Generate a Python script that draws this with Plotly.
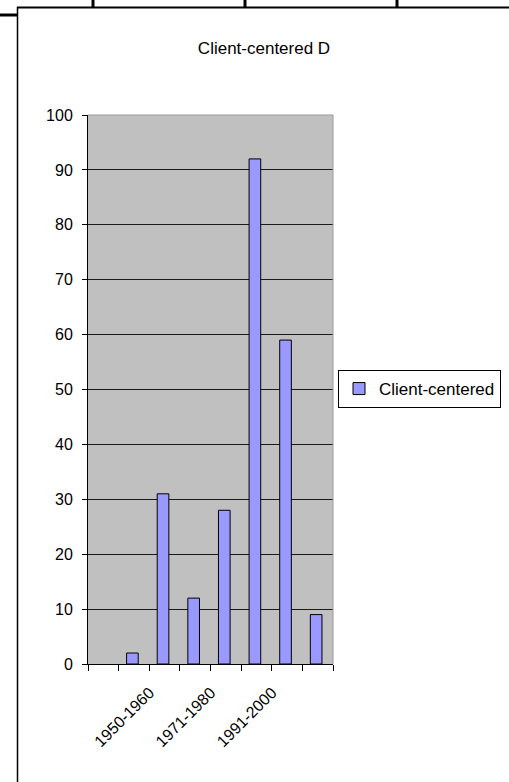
import plotly.graph_objects as go

# ---- data ----
categories = ["c1", "c2", "c3", "c4", "c5", "c6", "c7", "c8"]
shown_labels = ["", "", "1950-1960", "", "1971-1980", "", "1991-2000", ""]
values = [None, 2, 31, 12, 28, 92, 59, 9]
series_name = "Client-centered"
title_text = "Client-centered D"
y_ticks = [0, 10, 20, 30, 40, 50, 60, 70, 80, 90, 100]

W, H = 509, 782
L, R, T, B = 88, 333, 115, 664  # plot area in pixels


def px(x):
    return (x - L) / (R - L)


def py(y):
    return (B - y) / (B - T)


FONT = "Liberation Sans, Arial, sans-serif"

fig = go.Figure()
fig.add_trace(go.Bar(
    x=categories, y=values, name=series_name,
    width=0.38, offset=-0.24,
    marker=dict(color="#9999FF", line=dict(color="black", width=1)),
    showlegend=True,
))

shapes = []
# plot area top/right border (gray)
shapes.append(dict(type="line", xref="paper", yref="paper", x0=0, x1=1, y0=1, y1=1,
                   line=dict(color="#9a9a9a", width=1), layer="above"))
shapes.append(dict(type="line", xref="paper", yref="paper", x0=1, x1=1, y0=0, y1=1,
                   line=dict(color="#9a9a9a", width=1), layer="above"))
# outer chart frame
shapes.append(dict(type="line", xref="paper", yref="paper", x0=px(17), x1=px(509),
                   y0=py(7.5), y1=py(7.5), line=dict(color="black", width=2)))
shapes.append(dict(type="line", xref="paper", yref="paper", x0=px(17.5), x1=px(17.5),
                   y0=py(7), y1=py(782), line=dict(color="black", width=1.5)))
# spreadsheet cell lines above the chart
for xv in [93, 245, 397]:
    shapes.append(dict(type="line", xref="paper", yref="paper", x0=px(xv), x1=px(xv),
                       y0=py(0), y1=py(7), line=dict(color="black", width=3)))
shapes.append(dict(type="line", xref="paper", yref="paper", x0=px(0), x1=px(17),
                   y0=py(15), y1=py(15), line=dict(color="black", width=3)))

fig.update_layout(
    width=W, height=H, autosize=False,
    margin=dict(l=L, r=W - R, t=T, b=H - B, pad=0, autoexpand=False),
    paper_bgcolor="white",
    plot_bgcolor="#C0C0C0",
    font=dict(family=FONT, size=16, color="black"),
    title=dict(text=title_text, x=264 / W, xanchor="center", xref="container",
               y=1 - 48 / H, yanchor="middle", yref="container",
               font=dict(family=FONT, size=17, color="black")),
    shapes=shapes,
    showlegend=True,
    legend=dict(x=px(338), y=py(370), xanchor="left", yanchor="top",
                bordercolor="black", borderwidth=1, bgcolor="white",
                font=dict(family=FONT, size=17, color="black")),
    xaxis=dict(
        type="category",
        tickmode="array", tickvals=categories, ticktext=shown_labels,
        tickson="boundaries", ticks="outside", ticklen=6, tickcolor="black",
        tickangle=-45, ticklabelshift=-15, ticklabelstandoff=12,
        showline=True, linecolor="black", linewidth=1,
        showgrid=False, zeroline=False, automargin=False,
        tickfont=dict(family=FONT, size=16, color="black"),
    ),
    yaxis=dict(
        range=[0, 100], tickmode="array", tickvals=y_ticks,
        ticks="outside", ticklen=5, tickcolor="black",
        showline=True, linecolor="black", linewidth=1,
        showgrid=True, gridcolor="#1a1a1a", gridwidth=1,
        zeroline=False, ticklabelstandoff=6, automargin=False,
        tickfont=dict(family=FONT, size=16, color="black"),
    ),
)

fig.write_html(
    "out.html",
    config={"responsive": False, "displayModeBar": False},
    post_script="document.body.style.margin='0';document.body.style.overflow='hidden';",
)
